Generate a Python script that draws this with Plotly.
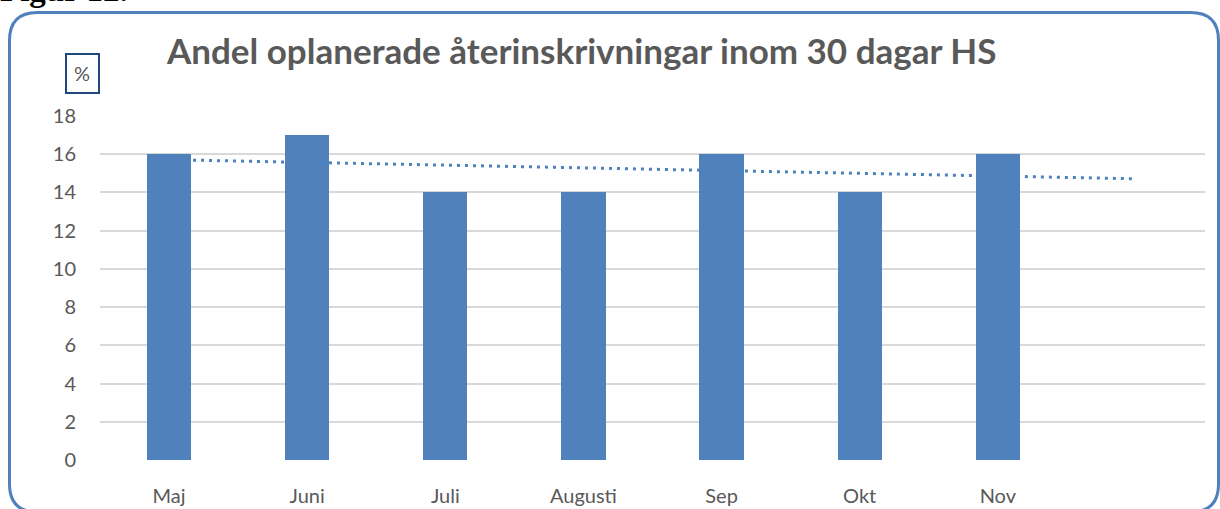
import numpy as np
import plotly.graph_objects as go

months = ["Maj", "Juni", "Juli", "Augusti", "Sep", "Okt", "Nov"]
values = [16, 17, 14, 14, 16, 14, 16]
y_ticks = [0, 2, 4, 6, 8, 10, 12, 14, 16, 18]
title_text = "Andel oplanerade återinskrivningar inom 30 dagar HS"
unit_label = "%"
figure_label = "Figur 12."

W, H = 1220, 509
L, R, T, B = 100, 15, 116, 49
pw, ph = W - L - R, H - T - B

def px(x):
    return (x - L) / pw

def py(y):
    return (H - B - y) / ph

xs = np.arange(len(months))
# linear trendline, forecast forward one period (as in the original)
slope, intercept = np.polyfit(xs, values, 1)
tx = np.array([0, len(months)])
ty = slope * tx + intercept

fig = go.Figure()
fig.add_trace(go.Scatter(
    x=tx, y=ty, mode="lines", xaxis="x", yaxis="y",
    line=dict(color="#4F81BD", width=3, dash="3px,5px"),
    hoverinfo="skip", showlegend=False))
fig.add_trace(go.Bar(
    x=xs, y=values, xaxis="x", yaxis="y2", width=0.32,
    marker=dict(color="#4F81BD", line=dict(width=0)), showlegend=False))

axis_font = dict(family="Lato, Open Sans, sans-serif", size=20, color="#595959")
fig.update_layout(
    template="none",
    width=W, height=H,
    margin=dict(l=L, r=R, t=T, b=B, pad=0, autoexpand=False),
    paper_bgcolor="white", plot_bgcolor="white",
    xaxis=dict(range=[-0.5, len(months) + 0.5], tickmode="array",
               tickvals=list(xs), ticktext=months, showgrid=False,
               zeroline=False, showline=False, ticks="", tickfont=axis_font,
               ticklabelstandoff=22, automargin=False),
    yaxis=dict(range=[0, 18], tickmode="array", tickvals=y_ticks,
               showgrid=True, gridcolor="#D9D9D9", gridwidth=1.5,
               zeroline=False, showline=False, ticks="", tickfont=axis_font,
               ticklabelstandoff=23, automargin=False),
    yaxis2=dict(range=[0, 18], overlaying="y", showgrid=False, zeroline=False,
                showticklabels=False, showline=False, automargin=False),
    bargap=0,
)

fig.add_annotation(text="<b>" + title_text + "</b>", xref="paper", yref="paper",
                   x=px(581), y=py(50), xanchor="center", yanchor="middle",
                   showarrow=False,
                   font=dict(family="Lato, Open Sans, sans-serif", size=35, color="#595959"))
fig.add_annotation(text=unit_label, xref="paper", yref="paper",
                   x=px(82), y=py(73), xanchor="center", yanchor="middle",
                   showarrow=False,
                   font=dict(family="Lato, Open Sans, sans-serif", size=20, color="#595959"))
fig.add_shape(type="rect", xref="paper", yref="paper",
              x0=px(66), x1=px(99), y0=py(54), y1=py(93),
              line=dict(color="#1F497D", width=2), fillcolor="rgba(0,0,0,0)")
fig.add_annotation(text="<b>" + figure_label + "</b>", xref="paper", yref="paper",
                   x=px(-2), y=py(-10), xanchor="left", yanchor="middle",
                   showarrow=False,
                   font=dict(family="Liberation Serif, serif", size=33, color="black"))

# rounded border
x0, x1, y0, y1 = 9.5, 1218.5, 12.5, 512
r = 28
rx, ry = r / pw, r / ph
X0, X1, Y0, Y1 = px(x0), px(x1), py(y0), py(y1)
path = (f"M {X0+rx},{Y0} L {X1-rx},{Y0} Q {X1},{Y0} {X1},{Y0-ry} "
        f"L {X1},{Y1+ry} Q {X1},{Y1} {X1-rx},{Y1} "
        f"L {X0+rx},{Y1} Q {X0},{Y1} {X0},{Y1+ry} "
        f"L {X0},{Y0-ry} Q {X0},{Y0} {X0+rx},{Y0} Z")
fig.add_shape(type="path", path=path, xref="paper", yref="paper",
              line=dict(color="#4F81BD", width=3), fillcolor="rgba(0,0,0,0)")

fig.write_html("out.html", config={"displayModeBar": False},
               post_script="document.body.style.margin='0';document.body.style.overflow='hidden';")
